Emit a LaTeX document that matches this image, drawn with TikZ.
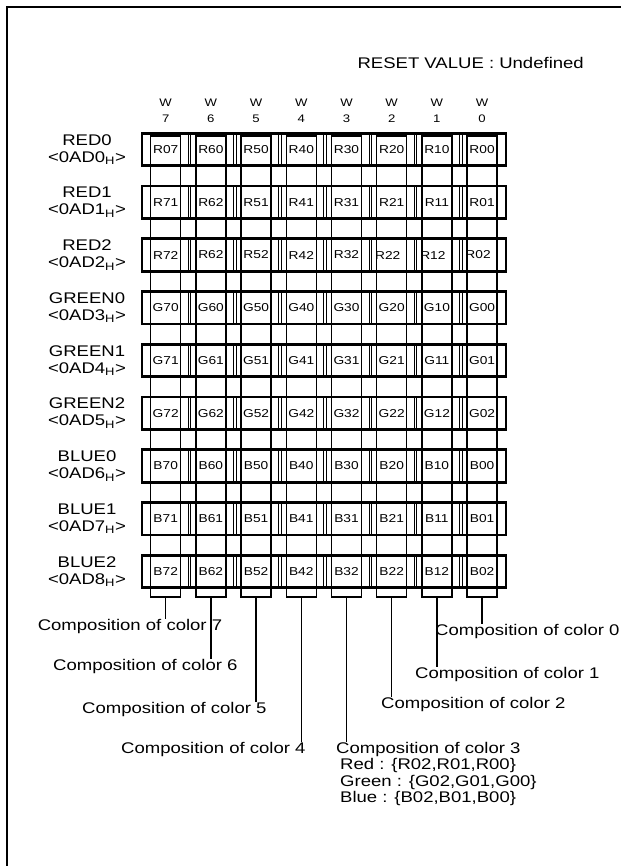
\documentclass[tikz,border=0pt]{standalone}
\usepackage{fontspec}
\setmainfont{Liberation Sans}[FakeStretch=1.2]
\usetikzlibrary{positioning,calc}
\tikzset{
  regbox/.style={draw=black, line width=2.8bp, minimum width=364bp, minimum height=32.5bp, inner sep=0pt},
  bitstrip/.style={draw=black, line width=1.3bp, minimum width=30bp, minimum height=461bp, inner sep=0pt},
  bitname/.style={font=\fontsize{11.5}{12}\selectfont, inner sep=0pt},
  bithdr/.style={font=\fontsize{11}{12}\selectfont, inner sep=0pt},
  reglabel/.style={align=center, font=\fontsize{15.5}{17}\selectfont, inner sep=0pt},
  colorlabel/.style={anchor=north west, align=left, font=\fontsize{15.5}{16.5}\selectfont, inner sep=0pt},
  lead/.style={line width=1.3bp}
}
\begin{document}
\begin{tikzpicture}[x=1bp, y=-1bp]
  \useasboundingbox (0,0) rectangle (621,866);
  \draw[line width=2bp] (7,866) -- (7,7) -- (621,7);
  \node[anchor=east, font=\fontsize{15.5}{17}\selectfont, inner sep=0pt] (reset) at (584,63) {RESET VALUE : Undefined};

  % register rows
  \foreach \nm/\ad [count=\r from 0] in {RED0/0AD0,RED1/0AD1,RED2/0AD2,GREEN0/0AD3,GREEN1/0AD4,GREEN2/0AD5,BLUE0/0AD6,BLUE1/0AD7,BLUE2/0AD8}{
    \node[regbox] (reg\r) at (324,149.5+52.75*\r) {};
    \node[reglabel] (lbl\r) at (87,149.5+52.75*\r) {\nm\\<\ad\textsubscript{H}>};
    \foreach \i in {0,...,6}
      \draw[line width=0.9bp] (188.3+45.2*\i,133.25+52.75*\r) -- ++(0,32.5)
                              (190.9+45.2*\i,133.25+52.75*\r) -- ++(0,32.5);
  }

  % bit columns
  \foreach \i in {0,...,7}{
    \pgfmathtruncatemacro{\b}{7-\i}
    \node[bitstrip] (s\b) at (165.7+45.2*\i,366.5) {};
    \node[bithdr] (w\b) at (165.7+45.2*\i,103) {W};
    \node[bithdr] (n\b) at (165.7+45.2*\i,118.5) {\b};
  }

  % bit names
  \foreach \r/\cells in {0/{R07,R60,R50,R40,R30,R20,R10,R00},
                         1/{R71,R62,R51,R41,R31,R21,R11,R01},
                         2/{R72,R62,R52,R42,R32,\hspace*{-8bp}R22,\hspace*{-8bp}R12,\hspace*{-8bp}R02},
                         3/{G70,G60,G50,G40,G30,G20,G10,G00},
                         4/{G71,G61,G51,G41,G31,G21,G11,G01},
                         5/{G72,G62,G52,G42,G32,G22,G12,G02},
                         6/{B70,B60,B50,B40,B30,B20,B10,B00},
                         7/{B71,B61,B51,B41,B31,B21,B11,B01},
                         8/{B72,B62,B52,B42,B32,B22,B12,B02}}
    \foreach \t [count=\i from 0] in \cells
      \node[bitname] (b\r-\i) at (165.7+45.2*\i,149.5+52.75*\r) {\t};

  % color compositions
  \foreach \b/\x/\y in {7/37.6/619,6/53/659,5/82/702,4/121/742,2/381/697,1/415/667,0/435/624}{
    \node[colorlabel] (c\b) at (\x,\y) {Composition of color \b};
    \draw[lead] (s\b.south) -- (s\b.south |- c\b.north);
  }
  \node[colorlabel] (c3) at (336,742) {Composition of color 3\\
    \hspace*{4bp}Red : \{R02,R01,R00\}\\
    \hspace*{4bp}Green : \{G02,G01,G00\}\\
    \hspace*{4bp}Blue : \{B02,B01,B00\}};
  \draw[lead] (s3.south) -- (s3.south |- c3.north);
\end{tikzpicture}
\end{document}
